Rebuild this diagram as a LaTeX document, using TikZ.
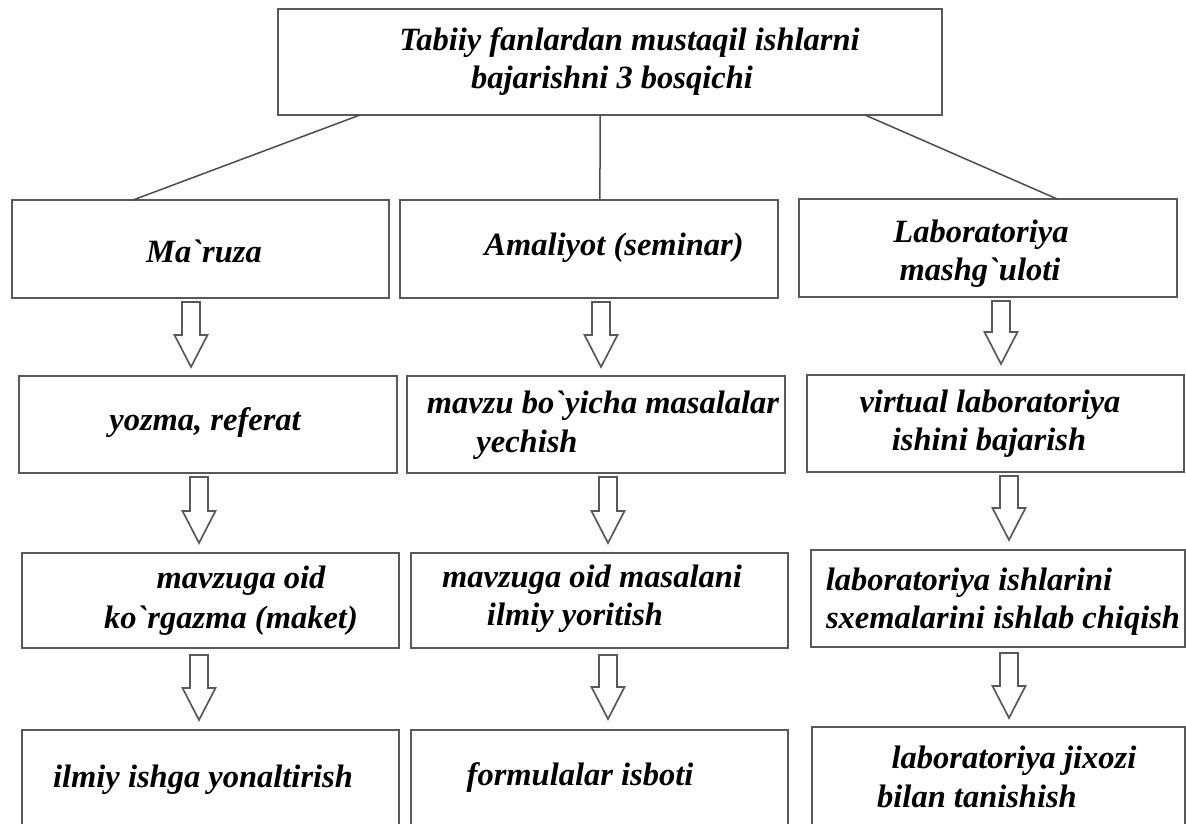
\documentclass[tikz,border=0pt]{standalone}
\usepackage{fontspec}
\setmainfont{Liberation Serif}
\usetikzlibrary{calc}
\begin{document}
\begin{tikzpicture}[x=1pt,y=-1pt,
  box/.style={draw=black!65, line width=2pt, fill=white, inner sep=0pt, outer sep=0pt, rectangle},
  txt/.style={font=\bfseries\itshape\fontsize{32.5}{38}\selectfont, inner sep=0pt, anchor=base, text=black},
  conn/.style={draw=black!70, line width=1.5pt},
  blockarr/.style={draw=black!65, line width=1.7pt, fill=white, line join=miter,
    to path={let \p1=(\tikztostart), \p2=(\tikztotarget) in
      (\x1-9pt,\y1) -- (\x1+9pt,\y1) -- (\x1+9pt,\y2+32pt) -- (\x1+16.5pt,\y2+32pt)
      -- (\x1,\y2) -- (\x1-16.5pt,\y2+32pt) -- (\x1-9pt,\y2+32pt) -- cycle}}]
\useasboundingbox (0,0) rectangle (1186,823);
\fill[white] (0,0) rectangle (1186,823);
\clip (0,0) rectangle (1186,823);

% boxes
\node[box, minimum width=664pt, minimum height=106pt] (top) at (610,62) {};
\node[box, minimum width=377pt, minimum height=98pt] (r1L) at (200.5,249) {};
\node[box, minimum width=378pt, minimum height=98pt] (r1M) at (589,249) {};
\node[box, minimum width=378pt, minimum height=98pt] (r1R) at (988,248) {};
\node[box, minimum width=378pt, minimum height=97pt] (r2L) at (208,424.5) {};
\node[box, minimum width=378pt, minimum height=97pt] (r2M) at (596,424.5) {};
\node[box, minimum width=377pt, minimum height=97pt] (r2R) at (995.5,423.5) {};
\node[box, minimum width=377pt, minimum height=95pt] (r3L) at (210.5,600.5) {};
\node[box, minimum width=377pt, minimum height=95pt] (r3M) at (599.5,600.5) {};
\node[box, minimum width=374pt, minimum height=97pt] (r3R) at (998,598.5) {};
\node[box, minimum width=377pt, minimum height=120pt] (r4L) at (210.5,790) {};
\node[box, minimum width=377pt, minimum height=120pt] (r4M) at (599.5,790) {};
\node[box, minimum width=373pt, minimum height=123pt] (r4R) at (998.5,788.5) {};

% connectors from the top box
\draw[conn] ($(top.south west)!0.1235!(top.south east)$) -- ($(r1L.north west)!0.321!(r1L.north east)$);
\draw[conn] ($(top.south west)!0.485!(top.south east)$) -- ($(r1M.north west)!0.529!(r1M.north east)$);
\draw[conn] ($(top.south west)!0.884!(top.south east)$) -- ($(r1R.north west)!0.683!(r1R.north east)$);

% block arrows
\coordinate (p1L) at (191,302); \coordinate (q1L) at (191,367);
\coordinate (p1M) at (601,302); \coordinate (q1M) at (601,367);
\coordinate (p1R) at (1001,301); \coordinate (q1R) at (1001,364);
\coordinate (p2L) at (199,477); \coordinate (q2L) at (199,543);
\coordinate (p2M) at (608,477); \coordinate (q2M) at (608,543);
\coordinate (p2R) at (1009,476); \coordinate (q2R) at (1009,540);
\coordinate (p3L) at (199,655); \coordinate (q3L) at (199,720);
\coordinate (p3M) at (608,655); \coordinate (q3M) at (608,719);
\coordinate (p3R) at (1009,653); \coordinate (q3R) at (1009,718);
\path[blockarr] (p1L) to (q1L);
\path[blockarr] (p1M) to (q1M);
\path[blockarr] (p1R) to (q1R);
\path[blockarr] (p2L) to (q2L);
\path[blockarr] (p2M) to (q2M);
\path[blockarr] (p2R) to (q2R);
\path[blockarr] (p3L) to (q3L);
\path[blockarr] (p3M) to (q3M);
\path[blockarr] (p3R) to (q3R);

% texts
\node[txt] (t0a) at (629.5,50) {Tabiiy fanlardan mustaqil ishlarni};
\node[txt] (t0b) at (612,88) {bajarishni 3 bosqichi};
\node[txt] (t1L) at (204,262) {Ma\textasciigrave ruza};
\node[txt] (t1M) at (614,255) {Amaliyot (seminar)};
\node[txt] (t1Ra) at (981,242) {Laboratoriya};
\node[txt] (t1Rb) at (980,280) {mashg\textasciigrave uloti};
\node[txt] (t2L) at (205,430) {yozma, referat};
\node[txt] (t2Ma) at (603,413) {mavzu bo\textasciigrave yicha masalalar};
\node[txt] (t2Mb) at (527,452) {yechish};
\node[txt] (t2Ra) at (990,412) {virtual laboratoriya};
\node[txt] (t2Rb) at (989,450) {ishini bajarish};
\node[txt] (t3La) at (241,588) {mavzuga oid};
\node[txt] (t3Lb) at (231,628) {ko\textasciigrave rgazma (maket)};
\node[txt] (t3Ma) at (592,587) {mavzuga oid masalani};
\node[txt] (t3Mb) at (575,625) {ilmiy yoritish};
\node[txt] (t3Ra) at (969,590) {laboratoriya ishlarini};
\node[txt] (t3Rb) at (1003,628) {sxemalarini ishlab chiqish};
\node[txt] (t4L) at (203,787) {ilmiy ishga yonaltirish};
\node[txt] (t4M) at (580,785) {formulalar isboti};
\node[txt] (t4Ra) at (1014,768) {laboratoriya jixozi};
\node[txt] (t4Rb) at (977,807) {bilan tanishish};
\end{tikzpicture}
\end{document}
